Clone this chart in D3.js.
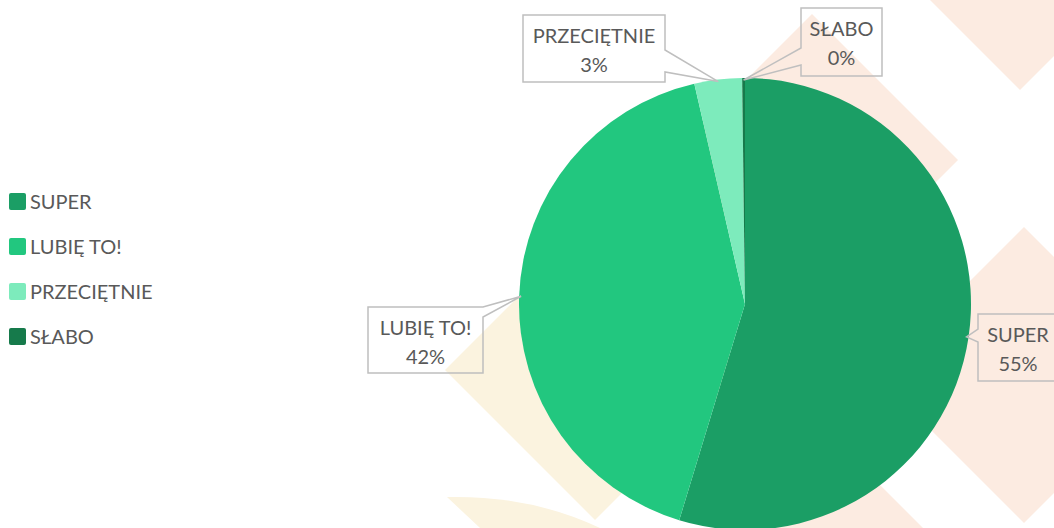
<!DOCTYPE html>
<html>
<head>
<meta charset="utf-8">
<script src="https://cdn.jsdelivr.net/npm/d3@7"></script>
<style>
  body { margin: 0; background: #ffffff; }
  svg { display: block; font-family: Lato, "Open Sans", sans-serif; }
</style>
</head>
<body>
<div id="chart"></div>
<script>
// chart data
const categories = ["SUPER", "LUBIĘ TO!", "PRZECIĘTNIE", "SŁABO"];
const values = [54.7, 41.7, 3.4, 0.2];
const colors = ["#1b9e65", "#22c77f", "#7debbc", "#167a4b"];

// frame
const FRAME_WIDTH = 1054;
const FRAME_HEIGHT = 528;
const CENTER = {x: 745, y: 304};
const RADIUS = 226;
const FONT_SIZE = 20;

const svg = d3.select("#chart")
  .append("svg")
    .attr("width", FRAME_WIDTH)
    .attr("height", FRAME_HEIGHT);

// faint decorative background shapes
const peach = "#fcebe1";
const cream = "#fbf3df";
function diamond(cx, cy, h) {
  return [[cx, cy - h], [cx + h, cy], [cx, cy + h], [cx - h, cy]];
}
const bgShapes = [
  {pts: diamond(1020, -60, 150), fill: peach},
  {pts: diamond(812, 160, 146), fill: peach},
  {pts: diamond(1024, 375, 148), fill: peach},
  {pts: diamond(825, 580, 150), fill: peach},
  {pts: diamond(595, 370, 150), fill: cream}
];
svg.append("g")
  .selectAll("polygon")
  .data(bgShapes)
  .enter()
  .append("polygon")
    .attr("points", (d) => d.pts.map((p) => p.join(",")).join(" "))
    .attr("fill", (d) => d.fill);

// the curved cream leaf at the bottom
svg.append("path")
  .attr("d", "M447,497 Q530,495 600,528 L480,528 Z")
  .attr("fill", cream);

// pie
const total = d3.sum(values);
const pie = d3.pie().sort(null).value((d) => d);
const arcs = pie(values);
const arc = d3.arc().innerRadius(0).outerRadius(RADIUS);

const pieG = svg.append("g")
  .attr("transform", `translate(${CENTER.x},${CENTER.y})`);

pieG.selectAll("path")
  .data(arcs)
  .enter()
  .append("path")
    .attr("d", arc)
    .attr("fill", (d, i) => colors[i]);

// data label callouts, box position per slice plus which side the pointer sits
const boxes = [
  {x: 978, y: 314, w: 80, h: 67, side: "left", p1: 15, p2: 28},
  {x: 368, y: 307, w: 115, h: 66, side: "right", p1: 0, p2: 10},
  {x: 523, y: 15, w: 142, h: 67, side: "right", p1: 35, p2: 57},
  {x: 801, y: 8, w: 81, h: 68, side: "left", p1: 40, p2: 57}
];

function calloutPath(b, tip) {
  const x0 = b.x, y0 = b.y, x1 = b.x + b.w, y1 = b.y + b.h;
  if (b.side === "right") {
    return `M${x0},${y0} L${x1},${y0} L${x1},${y0 + b.p1} L${tip[0]},${tip[1]} ` +
      `L${x1},${y0 + b.p2} L${x1},${y1} L${x0},${y1} Z`;
  }
  return `M${x1},${y0} L${x0},${y0} L${x0},${y0 + b.p1} L${tip[0]},${tip[1]} ` +
    `L${x0},${y0 + b.p2} L${x0},${y1} L${x1},${y1} Z`;
}

const labelG = svg.append("g");
arcs.forEach((a, i) => {
  const mid = (a.startAngle + a.endAngle) / 2;
  const tip = [CENTER.x + (RADIUS - 2) * Math.sin(mid), CENTER.y - (RADIUS - 2) * Math.cos(mid)];
  const b = boxes[i];
  labelG.append("path")
    .attr("d", calloutPath(b, tip))
    .attr("fill", "none")
    .attr("stroke", "#bfbfbf")
    .attr("stroke-width", 1.5);
  const t = labelG.append("text")
    .attr("x", b.x + b.w / 2)
    .attr("y", b.y + 28)
    .attr("text-anchor", "middle")
    .attr("fill", "#595959")
    .attr("font-size", FONT_SIZE);
  t.append("tspan").text(categories[i]);
  t.append("tspan")
    .attr("x", b.x + b.w / 2)
    .attr("dy", 28.5)
    .text(Math.round(values[i] / total * 100) + "%");
});

// legend
const legend = svg.append("g")
  .selectAll("g")
  .data(categories)
  .enter()
  .append("g")
    .attr("transform", (d, i) => `translate(9,${193 + i * 45})`);

legend.append("rect")
  .attr("width", 17)
  .attr("height", 17)
  .attr("rx", 2)
  .attr("fill", (d, i) => colors[i]);

legend.append("text")
  .attr("x", 21)
  .attr("y", 16)
  .attr("fill", "#595959")
  .attr("font-size", FONT_SIZE)
  .text((d) => d);
</script>
</body>
</html>
